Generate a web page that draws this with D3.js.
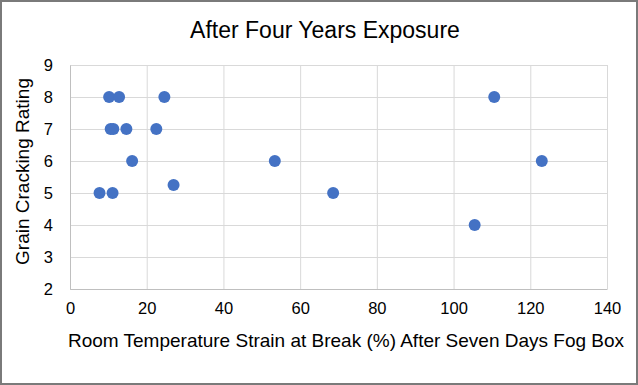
<!DOCTYPE html>
<html lang="en">
<head>
    <meta charset="UTF-8">
    <title>After Four Years Exposure</title>
    <script src="https://d3js.org/d3.v7.min.js"></script>
    <style>
        html, body { margin: 0; padding: 0; background: #fff; }
        svg { display: block; font-family: "Liberation Sans", Arial, sans-serif; }
    </style>
</head>
<body>
    <div id="chart"></div>
    <script>
        // values
        var strainValues = [10.2, 12.8, 24.6, 110.6, 10.6, 11.3, 14.7, 22.5, 16.2, 53.4, 123.0, 27.0, 7.7, 11.1, 68.6, 105.5];
        var ratingValues = [8, 8, 8, 8, 7, 7, 7, 7, 6, 6, 6, 5.25, 5, 5, 5, 4];
        var xTicks = [0, 20, 40, 60, 80, 100, 120, 140];
        var yTicks = [2, 3, 4, 5, 6, 7, 8, 9];

        var width = 638, height = 385;
        var margin = { top: 65, right: 31, bottom: 96, left: 70 };
        var plotW = width - margin.left - margin.right;
        var plotH = height - margin.top - margin.bottom;
        var fontFam = '"Liberation Sans", Arial, sans-serif';

        var svg = d3.select('#chart').append('svg')
            .attr('width', width)
            .attr('height', height);

        svg.append('rect')
            .attr('x', 1).attr('y', 1)
            .attr('width', width - 2).attr('height', height - 2)
            .attr('fill', '#fff')
            .attr('stroke', '#7a7a7a')
            .attr('stroke-width', 2);

        var g = svg.append('g')
            .attr('transform', 'translate(' + margin.left + ',' + margin.top + ')');

        var x = d3.scaleLinear().domain([0, 140]).range([0, plotW]);
        var y = d3.scaleLinear().domain([2, 9]).range([plotH, 0]);

        // gridlines
        g.append('g')
            .attr('transform', 'translate(0,' + plotH + ')')
            .call(d3.axisBottom(x).tickValues(xTicks).tickSize(-plotH).tickFormat(''))
            .call(function (a) {
                a.select('.domain').remove();
                a.selectAll('line').attr('stroke', '#d9d9d9');
            });
        g.append('g')
            .call(d3.axisLeft(y).tickValues(yTicks).tickSize(-plotW).tickFormat(''))
            .call(function (a) {
                a.select('.domain').remove();
                a.selectAll('line').attr('stroke', '#d9d9d9');
            });

        // axes with labels
        g.append('g')
            .attr('transform', 'translate(0,' + plotH + ')')
            .call(d3.axisBottom(x).tickValues(xTicks).tickSize(0).tickPadding(13).tickFormat(d3.format('d')))
            .call(function (a) {
                a.select('.domain').attr('stroke', '#bfbfbf');
                a.selectAll('text').attr('font-size', 16.5).attr('fill', '#000')
                    .attr('font-family', fontFam);
            });
        g.append('g')
            .call(d3.axisLeft(y).tickValues(yTicks).tickSize(0).tickPadding(17).tickFormat(d3.format('d')))
            .call(function (a) {
                a.select('.domain').attr('stroke', '#bfbfbf');
                a.selectAll('text').attr('font-size', 16.5).attr('fill', '#000')
                    .attr('font-family', fontFam);
            });

        // points
        g.selectAll('circle')
            .data(strainValues)
            .enter().append('circle')
            .attr('cx', function (d) { return x(d); })
            .attr('cy', function (d, i) { return y(ratingValues[i]); })
            .attr('r', 6)
            .attr('fill', '#4472c4');

        // titles
        svg.append('text')
            .attr('x', 325).attr('y', 38)
            .attr('text-anchor', 'middle')
            .attr('font-size', 23)
            .text('After Four Years Exposure');

        svg.append('text')
            .attr('x', 346).attr('y', 347)
            .attr('text-anchor', 'middle')
            .attr('font-size', 19)
            .text('Room Temperature Strain at Break (%) After Seven Days Fog Box');

        svg.append('text')
            .attr('transform', 'translate(29,' + 171.5 + ') rotate(-90)')
            .attr('text-anchor', 'middle')
            .attr('font-size', 19)
            .text('Grain Cracking Rating');
    </script>
</body>
</html>
